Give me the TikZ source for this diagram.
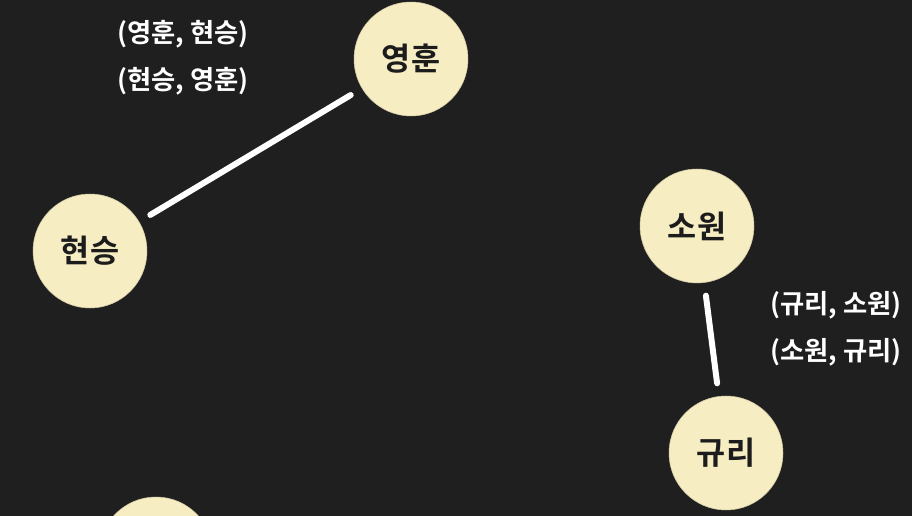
\documentclass[tikz,border=0pt]{standalone}
\usepackage{fontspec}
\setmainfont{Noto Sans CJK KR}[BoldFont={* Bold}]
\usepackage{tikz}
\usetikzlibrary{positioning, calc}
\usepackage[svgnames,table]{xcolor}

\definecolor{bgdark}{HTML}{1F1F1F}
\definecolor{cream}{HTML}{F7EDC3}
\definecolor{inkdark}{HTML}{1C1C1C}

\tikzset{
  person/.style={circle, fill=cream, draw=cream!85!black, line width=0.3pt,
    minimum size=2.28cm, inner sep=0pt, text=inkdark, font=\bfseries\fontsize{18}{21}\selectfont},
  link/.style={white, line width=3.4pt, line cap=round, shorten <=0.26cm, shorten >=0.26cm},
  pairtext/.style={white, font=\bfseries\fontsize{15}{18}\selectfont}
}

\begin{document}
\begin{tikzpicture}[x=0.02cm, y=-0.02cm]
                % Background
                \fill[bgdark] (0,0) rectangle (912,516);
                \useasboundingbox (0,0) rectangle (912,516);

                % People
                \node[person] (yeonghun) at (411,59) {영훈};
                \node[person] (hyeonseung) at (90,251) {현승};
                \node[person] (sowon) at (697,226) {소원};
                \node[person] (gyuri) at (726,453) {규리};
                \node[person] (lower) at (156,554) {};

                % Friendships
                \draw[link] (hyeonseung) -- (yeonghun);
                \draw[link] (sowon) -- (gyuri);

                % Pair labels
                \node[pairtext] (pairA) at (183,34) {(영훈, 현승)};
                \node[pairtext] (pairB) at (183,81) {(현승, 영훈)};
                \node[pairtext] (pairC) at (836,305) {(규리, 소원)};
                \node[pairtext] (pairD) at (836,352) {(소원, 규리)};
\end{tikzpicture}
\end{document}
